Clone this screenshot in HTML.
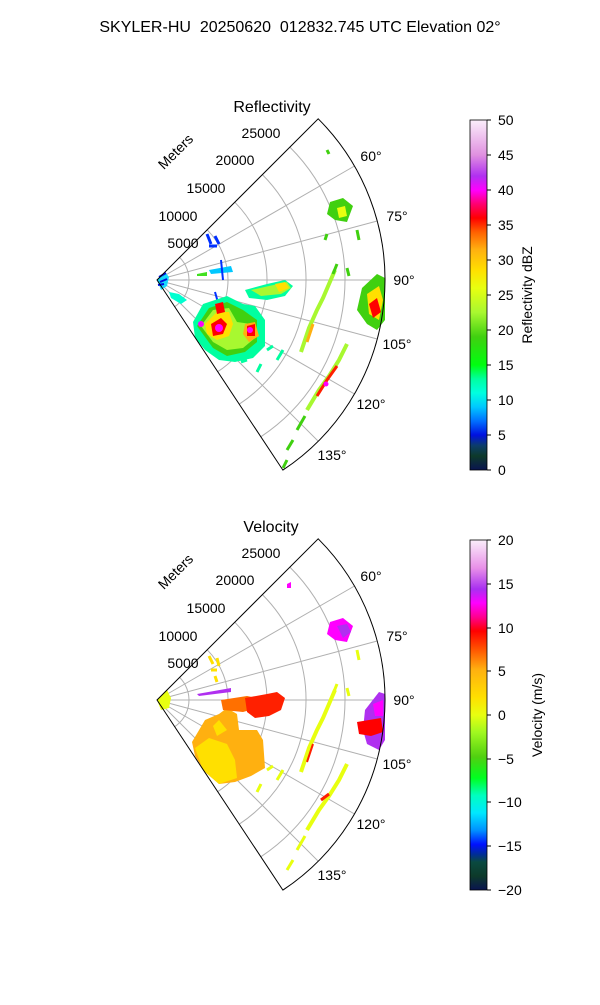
<!DOCTYPE html>
<html><head><meta charset="utf-8"><style>
html,body{margin:0;padding:0;background:#fff}
svg text{font-family:"Liberation Sans","DejaVu Sans",sans-serif;fill:#000}
</style></head><body>
<svg width="600" height="1000" viewBox="0 0 600 1000" xmlns="http://www.w3.org/2000/svg">
<defs>
<linearGradient id="gz" x1="0" y1="1" x2="0" y2="0">
<stop offset="0" stop-color="#0a1450"/>
<stop offset="0.04" stop-color="#0d3a2a"/>
<stop offset="0.07" stop-color="#0c3d6b"/>
<stop offset="0.1" stop-color="#0010e0"/>
<stop offset="0.14" stop-color="#0070ff"/>
<stop offset="0.18" stop-color="#00c8ff"/>
<stop offset="0.22" stop-color="#00ffe0"/>
<stop offset="0.26" stop-color="#00ffa0"/>
<stop offset="0.3" stop-color="#00ff10"/>
<stop offset="0.38" stop-color="#40d010"/>
<stop offset="0.45" stop-color="#a8f830"/>
<stop offset="0.52" stop-color="#e8ff10"/>
<stop offset="0.57" stop-color="#ffe000"/>
<stop offset="0.63" stop-color="#ffb010"/>
<stop offset="0.68" stop-color="#ff6000"/>
<stop offset="0.72" stop-color="#ff0000"/>
<stop offset="0.76" stop-color="#ff0070"/>
<stop offset="0.8" stop-color="#ff00ff"/>
<stop offset="0.84" stop-color="#b030f0"/>
<stop offset="0.9" stop-color="#e090e0"/>
<stop offset="1" stop-color="#fbeefb"/>
</linearGradient>
<linearGradient id="gv" x1="0" y1="1" x2="0" y2="0">
<stop offset="0" stop-color="#0a1450"/>
<stop offset="0.04" stop-color="#0d3a2a"/>
<stop offset="0.08" stop-color="#0a4a40"/>
<stop offset="0.1" stop-color="#00308f"/>
<stop offset="0.13" stop-color="#0010ff"/>
<stop offset="0.17" stop-color="#0090ff"/>
<stop offset="0.22" stop-color="#00e8ff"/>
<stop offset="0.27" stop-color="#00ffc0"/>
<stop offset="0.32" stop-color="#00ff20"/>
<stop offset="0.38" stop-color="#50d010"/>
<stop offset="0.45" stop-color="#a0f820"/>
<stop offset="0.5" stop-color="#e8ff10"/>
<stop offset="0.55" stop-color="#ffe000"/>
<stop offset="0.63" stop-color="#ffb010"/>
<stop offset="0.69" stop-color="#ff5000"/>
<stop offset="0.74" stop-color="#ff0000"/>
<stop offset="0.78" stop-color="#ff0090"/>
<stop offset="0.82" stop-color="#ff00ff"/>
<stop offset="0.86" stop-color="#a830f0"/>
<stop offset="0.92" stop-color="#e890e8"/>
<stop offset="1" stop-color="#fbeefb"/>
</linearGradient>
<g id="grid" fill="none" stroke="#b0b0b0" stroke-width="1">
<path d="M22.6,-22.6 A32,32 0 0 1 17.7,26.7"/>
<path d="M50.2,-50.2 A71,71 0 0 1 39.2,59.2"/>
<path d="M77.8,-77.8 A110,110 0 0 1 60.7,91.7"/>
<path d="M105.4,-105.4 A149,149 0 0 1 82.2,124.2"/>
<path d="M132.9,-132.9 A188,188 0 0 1 103.8,156.8"/>
<path d="M0,0 L197.5,-114 M0,0 L220.2,-59 M0,0 L228,0 M0,0 L220.2,59 M0,0 L197.5,114 M0,0 L161.2,161.2"/>
</g>
<g id="frame" fill="none" stroke="#000" stroke-width="1">
<path d="M0,0 L161.2,-161.2 A228,228 0 0 1 125.9,190.1 Z"/>
</g>
<g id="labels" font-size="14">
<text x="214" y="-119" text-anchor="middle">60°</text>
<text x="240" y="-59" text-anchor="middle">75°</text>
<text x="247" y="5" text-anchor="middle">90°</text>
<text x="240" y="69" text-anchor="middle">105°</text>
<text x="214" y="129" text-anchor="middle">120°</text>
<text x="175" y="180" text-anchor="middle">135°</text>
<text x="104" y="-142" text-anchor="middle">25000</text>
<text x="78" y="-115" text-anchor="middle">20000</text>
<text x="49" y="-87" text-anchor="middle">15000</text>
<text x="21" y="-59" text-anchor="middle">10000</text>
<text x="26" y="-32" text-anchor="middle">5000</text>
<text transform="translate(22,-125) rotate(-45)" text-anchor="middle">Meters</text>
</g>
</defs>

<text x="300" y="32" font-size="16" text-anchor="middle" xml:space="preserve">SKYLER-HU  20250620  012832.745 UTC Elevation 02°</text>

<!-- Reflectivity -->
<text x="272" y="112" font-size="16" text-anchor="middle">Reflectivity</text>
<g transform="translate(157,280)">
<use href="#grid"/>
<g>
<polygon fill="#00d8ff" points="0,0 8,-8 12,-3 10,6 4,10" opacity="0.9"/>
<path d="M2,-3 L9,-7 M3,2 L10,-1 M1,5 L7,4" stroke="#0010e0" stroke-width="2"/>
<polygon fill="#00ffd0" points="12,12 22,14 30,20 24,24 14,18"/>
<path d="M50,-46 L54,-36 M58,-44 L62,-36 M52,-34 L60,-34" stroke="#0030ff" stroke-width="3"/>
<polygon fill="#00c8ff" points="52,-10 74,-14 76,-8 54,-6"/>
<polygon fill="#40e020" points="40,-6 50,-8 50,-4 40,-4"/>
<path d="M58,12 L62,26 M66,0 L64,-20" stroke="#0030ff" stroke-width="2"/>
<polygon fill="#00ffa0" points="36,42 46,24 70,16 86,24 98,26 108,40 108,66 96,78 78,82 62,80 48,70 38,58"/>
<polygon fill="#40d010" points="40,46 52,28 70,22 86,30 100,40 100,62 88,72 70,76 56,68"/>
<polygon fill="#a8f830" points="44,46 56,30 72,28 80,42 94,44 98,58 86,68 70,70 56,62"/>
<polygon fill="#ffe000" points="48,44 60,32 72,32 76,44 72,56 60,60 50,54"/>
<polygon fill="#ffb010" points="88,44 98,42 102,56 92,62 86,54"/>
<polygon fill="#ff0000" points="54,44 64,38 70,44 66,54 56,56"/>
<polygon fill="#ff0000" points="58,24 66,22 68,32 60,34"/>
<polygon fill="#ff0000" points="90,46 98,44 98,56 90,56"/>
<circle cx="62" cy="48" r="4" fill="#ff00ff"/>
<circle cx="93" cy="50" r="3" fill="#ff00ff"/>
<circle cx="44" cy="44" r="3" fill="#ff00ff"/>
<polygon fill="#00ffa0" points="88,10 110,4 128,0 136,6 128,16 110,20 92,18"/>
<polygon fill="#a8f830" points="94,10 112,6 130,2 134,8 124,14 104,16"/>
<polygon fill="#ffe000" points="118,4 128,2 132,8 122,12"/>
<polygon fill="#40d010" points="205,8 220,-6 228,-2 228,40 220,50 210,44 200,30"/>
<polygon fill="#ffe000" points="210,14 222,6 226,20 222,40 212,34"/>
<polygon fill="#ff0000" points="212,24 220,18 224,32 216,38"/>
<polygon fill="#40d010" points="173,-78 186,-82 196,-74 190,-58 178,-60 170,-66"/>
<polygon fill="#e8ff10" points="180,-72 188,-74 190,-64 182,-62"/>
<path d="M144,72 L152,48 L160,30 L166,18 L172,4 L178,-10" stroke="#a8f830" stroke-width="4" fill="none"/>
<path d="M150,62 L156,44" stroke="#ffb010" stroke-width="3"/>
<path d="M150,130 L162,110 L172,96 L182,80 L190,64" stroke="#a8f830" stroke-width="4" fill="none"/>
<path d="M160,116 L170,100 L180,86" stroke="#ff2000" stroke-width="3" fill="none"/>
<circle cx="169" cy="104" r="2.5" fill="#ff00ff"/>
<path d="M140,150 L148,136 M130,170 L136,160 M126,188 L130,180 M176,-6 L180,-16 M168,-40 L170,-46 M190,-12 L192,-4 M200,-50 L202,-40 M170,-130 L172,-126" stroke="#40d010" stroke-width="3"/>
<path d="M120,80 L126,70 M110,70 L116,66 M100,92 L104,84 M84,82 L90,80" stroke="#00ffa0" stroke-width="3"/>
</g>
<use href="#frame"/>
<use href="#labels"/>
</g>
<rect x="470" y="120" width="17" height="350" fill="url(#gz)" stroke="#000" stroke-width="0.8"/>
<g stroke="#000">
<path d="M487,120h4M487,155h4M487,190h4M487,225h4M487,260h4M487,295h4M487,330h4M487,365h4M487,400h4M487,435h4M487,470h4"/>
</g>
<g font-size="14">
<text x="498" y="125">50</text><text x="498" y="160">45</text><text x="498" y="195">40</text><text x="498" y="230">35</text><text x="498" y="265">30</text><text x="498" y="300">25</text><text x="498" y="335">20</text><text x="498" y="370">15</text><text x="498" y="405">10</text><text x="498" y="440">5</text><text x="498" y="475">0</text>
<text transform="translate(532,295) rotate(-90)" text-anchor="middle">Reflectivity dBZ</text>
</g>

<!-- Velocity -->
<text x="271" y="532" font-size="16" text-anchor="middle">Velocity</text>
<g transform="translate(157,700)">
<use href="#grid"/>
<g>
<polygon fill="#e8ff10" points="0,0 10,-10 14,-2 12,8 4,10"/>
<path d="M52,-44 L56,-36 M60,-42 L62,-34 M54,-30 L60,-30 M58,-24 L60,-18" stroke="#ffe000" stroke-width="3"/>
<polygon fill="#b030f0" points="40,-6 74,-12 74,-8 42,-4"/>
<polygon fill="#ffb010" points="35,42 48,20 62,14 70,8 80,14 82,30 100,30 106,40 108,68 94,76 78,82 62,84 48,72 38,56"/>
<polygon fill="#ffe000" points="38,48 52,38 70,44 78,60 80,78 62,84 46,70"/>
<polygon fill="#ffe000" points="56,26 62,20 70,30 60,36"/>
<polygon fill="#ff7000" points="64,0 90,-4 110,0 100,8 86,12 66,10"/>
<polygon fill="#ff2000" points="88,-2 110,-6 120,-8 128,-2 124,10 112,16 98,18 90,12"/>
<polygon fill="#ff00ff" points="130,-116 134,-118 134,-112 130,-112"/>
<polygon fill="#ff00ff" points="173,-78 186,-82 196,-74 190,-58 178,-60 170,-66"/>
<polygon fill="#b030f0" points="180,-74 190,-76 194,-68 186,-62"/>
<polygon fill="#b030f0" points="208,10 222,-8 228,-6 228,40 222,50 210,44 206,30"/>
<polygon fill="#ff0000" points="200,22 224,18 226,32 214,36 202,34"/>
<polygon fill="#ff00ff" points="216,4 226,0 226,16 218,16"/>
<path d="M144,72 L152,48 L160,30 L166,18 L172,4 L178,-10" stroke="#e8ff10" stroke-width="4" fill="none"/>
<path d="M150,62 L156,44" stroke="#ff2000" stroke-width="2"/>
<path d="M150,130 L162,110 L172,96 L182,80 L190,64" stroke="#e8ff10" stroke-width="4" fill="none"/>
<path d="M164,100 L172,94" stroke="#ff2000" stroke-width="3"/>
<path d="M140,150 L148,136 M130,170 L136,160 M176,-6 L180,-16 M190,-12 L192,-4 M200,-50 L202,-40 M120,80 L126,70 M110,70 L116,66 M100,92 L104,84" stroke="#e8ff10" stroke-width="3"/>
</g>
<use href="#frame"/>
<use href="#labels"/>
</g>
<rect x="470" y="540" width="17" height="350" fill="url(#gv)" stroke="#000" stroke-width="0.8"/>
<g stroke="#000">
<path d="M487,540h4M487,584h4M487,628h4M487,671h4M487,715h4M487,759h4M487,802h4M487,846h4M487,890h4"/>
</g>
<g font-size="14">
<text x="498" y="545">20</text><text x="498" y="589">15</text><text x="498" y="633">10</text><text x="498" y="676">5</text><text x="498" y="720">0</text><text x="498" y="764">−5</text><text x="498" y="807">−10</text><text x="498" y="851">−15</text><text x="498" y="895">−20</text>
<text transform="translate(542,715) rotate(-90)" text-anchor="middle">Velocity (m/s)</text>
</g>
</svg>
</body></html>
